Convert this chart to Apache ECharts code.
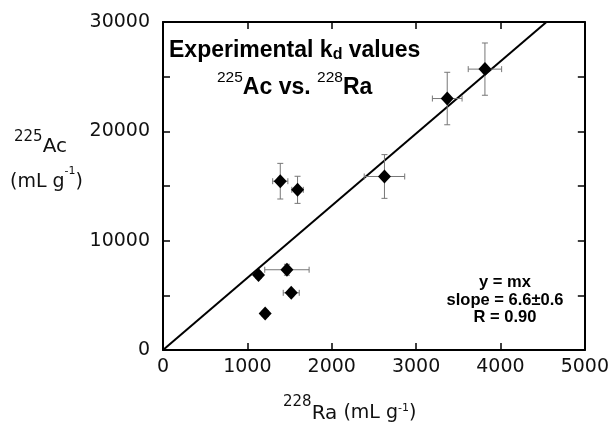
<!DOCTYPE html>
<html>
<head>
<meta charset="utf-8">
<script src="https://cdn.jsdelivr.net/npm/echarts@6/dist/echarts.min.js"></script>
<style>html,body{margin:0;padding:0;background:#fff}#c{width:612px;height:424px}</style>
</head>
<body>
<div id="c"></div>
<script>
// 228Ra kd (x) and 225Ac kd (y), mL/g
const raKd  = [1132, 1211, 1390, 1469, 1520, 1595, 2625, 3369, 3816];
const acKd  = [6850, 3330, 15440, 7340, 5230, 14650, 15870, 23000, 25690];
const raErr = [30, 40, 90, 263, 95, 68, 240, 176, 198];
const acErr = [300, 250, 1630, 500, 300, 1240, 2000, 2400, 2390];
const slope = 6.6;
const xTicks = [0, 1000, 2000, 3000, 4000, 5000];
const yTicks = [0, 10000, 20000, 30000];

const pts = raKd.map((x, i) => [x, acKd[i]]);
const errData = raKd.map((x, i) => [x, acKd[i], raErr[i], acErr[i]]);
const xMax = xTicks[xTicks.length - 1];
const fitLine = [[0, 0], [xMax, slope * xMax]];

// Lay out a run of text segments (for superscripts/subscripts) left to right.
const mctx = document.createElement('canvas').getContext('2d');
function run(x0, segs, color) {
  let x = x0;
  const out = [];
  segs.forEach(s => {
    mctx.font = s.font;
    const w = mctx.measureText(s.t).width;
    out.push({type: 'text', x: x, y: s.cy + 1.5, z: 10, style: {
      text: s.t, font: s.font, fill: color || '#111', align: 'left', verticalAlign: 'middle'}});
    x += w;
  });
  return out;
}
const B23 = 'bold 23px "Liberation Sans"';
const B16 = 'bold 16px "Liberation Sans"';
const R155 = '15.5px "Liberation Sans"';
const D20 = '20px "DejaVu Sans"', D19 = '19px "DejaVu Sans"', D15 = '15px "DejaVu Sans"', D11 = '11px "DejaVu Sans"';

const texts = [].concat(
  run(169, [{t: 'Experimental k', font: B23, cy: 49.5}, {t: 'd', font: B16, cy: 53}, {t: ' values', font: B23, cy: 49.5}], '#000'),
  run(217, [{t: '225', font: R155, cy: 76}, {t: 'Ac vs. ', font: B23, cy: 86}, {t: '228', font: R155, cy: 76}, {t: 'Ra', font: B23, cy: 86}], '#000'),
  run(14, [{t: '225', font: D15, cy: 135.5}, {t: 'Ac', font: D20, cy: 145}]),
  run(10, [{t: '(mL g', font: D19, cy: 181}, {t: '-1', font: D11, cy: 170}, {t: ')', font: D19, cy: 181}]),
  run(283, [{t: '228', font: D15, cy: 401}, {t: 'Ra', font: D20, cy: 412}, {t: ' (mL g', font: D19, cy: 412}, {t: '-1', font: D11, cy: 406.5}, {t: ')', font: D19, cy: 412}])
);
texts.push({type: 'text', x: 505, y: 274, z: 10, style: {
  text: 'y = mx\nslope = 6.6\u00b10.6\nR = 0.90',
  align: 'center', verticalAlign: 'top',
  font: 'bold 16.5px "Liberation Sans"', lineHeight: 17.5, fill: '#000'
}});

const chart = echarts.init(document.getElementById('c'));
const axFont = 'DejaVu Sans';
const axisCommon = {
  axisLine: {show: true, onZero: false, lineStyle: {color: '#000', width: 2}},
  axisTick: {show: true, inside: true, length: 7, lineStyle: {color: '#000', width: 1.5}},
  splitLine: {show: false}
};
chart.setOption({
  animation: false,
  backgroundColor: '#fff',
  grid: {left: 163, right: 27, top: 22, bottom: 74},
  xAxis: [
    Object.assign({type: 'value', min: 0, max: xMax, interval: 1000, position: 'bottom',
      axisLabel: {fontFamily: axFont, fontSize: 19, color: '#111', margin: 8,
        formatter: v => (xTicks.indexOf(v) >= 0 ? String(v) : '')}}, axisCommon),
    Object.assign({type: 'value', min: 0, max: xMax, interval: 1000, position: 'top',
      axisLabel: {show: false}}, axisCommon)
  ],
  yAxis: [
    Object.assign({type: 'value', min: 0, max: yTicks[yTicks.length - 1], interval: 5000, position: 'left',
      axisLabel: {fontFamily: axFont, fontSize: 19, color: '#111', margin: 13,
        formatter: v => (yTicks.indexOf(v) >= 0 ? String(v) : '')}}, axisCommon),
    Object.assign({type: 'value', min: 0, max: yTicks[yTicks.length - 1], interval: 5000, position: 'right',
      axisLabel: {show: false}}, axisCommon)
  ],
  series: [
    {
      type: 'line', data: fitLine, symbol: 'none', clip: true,
      lineStyle: {color: '#000', width: 2}, z: 2
    },
    {
      type: 'custom', data: errData, z: 3, clip: false,
      renderItem: function (params, api) {
        const x = api.value(0), y = api.value(1), ex = api.value(2), ey = api.value(3);
        const l = api.coord([x - ex, y]), r = api.coord([x + ex, y]);
        const t = api.coord([x, y + ey]), b = api.coord([x, y - ey]);
        const c = 3;
        const st = {stroke: '#777', lineWidth: 1};
        const mk = (x1, y1, x2, y2) => ({type: 'line', shape: {x1, y1, x2, y2}, style: st});
        return {type: 'group', children: [
          mk(l[0], l[1], r[0], r[1]),
          mk(l[0], l[1] - c, l[0], l[1] + c),
          mk(r[0], r[1] - c, r[0], r[1] + c),
          mk(t[0], t[1], b[0], b[1]),
          mk(t[0] - c, t[1], t[0] + c, t[1]),
          mk(b[0] - c, b[1], b[0] + c, b[1])
        ]};
      }
    },
    {
      type: 'scatter', data: pts, symbol: 'diamond', symbolSize: [13, 14],
      itemStyle: {color: '#000', opacity: 1}, z: 4
    }
  ],
  graphic: texts
});
</script>
</body>
</html>
